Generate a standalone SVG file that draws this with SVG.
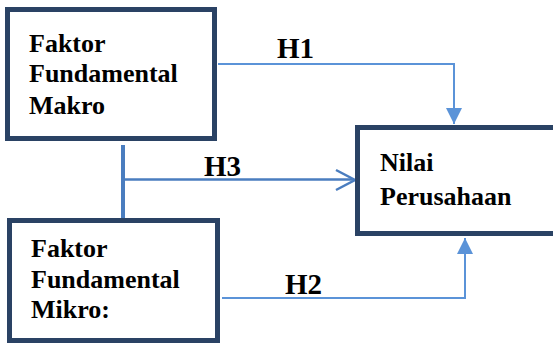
<svg xmlns="http://www.w3.org/2000/svg" width="553" height="343" viewBox="0 0 553 343">
<style>
.box{fill:#fff;stroke:#2a4264;stroke-width:5}
.ln{fill:none;stroke:#5b93d8;stroke-width:2}
.ln3{fill:none;stroke:#4a7dbf;stroke-width:2.5}
.t{font-family:'Liberation Serif','Times New Roman',serif;font-weight:bold;font-size:26px;fill:#000}
.h{font-family:'Liberation Serif','Times New Roman',serif;font-weight:bold;font-size:29px;fill:#000}
</style>
<defs>
<marker id="tri" markerUnits="userSpaceOnUse" markerWidth="16" markerHeight="16" viewBox="0 0 16 16" refX="16" refY="8" orient="auto">
<path d="M0,0 L16,8 L0,16 Z" fill="#5b93d8"/>
</marker>
</defs>
<g id="connectors">
<path class="ln" d="M218,64 H454 V124" marker-end="url(#tri)"/>
<path class="ln" d="M222,298 H465 V238" marker-end="url(#tri)"/>
<line x1="123" y1="145" x2="123" y2="222" stroke="#4a7dbf" stroke-width="4"/>
<line class="ln3" x1="125" y1="179.5" x2="354" y2="179.5"/>
<path class="ln3" d="M336,170 L355,180 L336,190"/>
<text class="h" x="277" y="58">H1</text>
<text class="h" x="204" y="176">H3</text>
<text class="h" x="285" y="294">H2</text>
</g>
<g id="makro">
<rect class="box" x="7.5" y="9.5" width="207" height="129"/>
<text class="t" x="29" y="52">Faktor</text>
<text class="t" x="29" y="82">Fundamental</text>
<text class="t" x="29" y="114">Makro</text>
</g>
<g id="nilai">
<rect class="box" x="357.5" y="127.5" width="210" height="106"/>
<text class="t" x="380" y="171">Nilai</text>
<text class="t" x="380" y="205">Perusahaan</text>
</g>
<g id="mikro">
<rect class="box" x="9.5" y="220.5" width="208" height="120"/>
<text class="t" x="31" y="257">Faktor</text>
<text class="t" x="31" y="288">Fundamental</text>
<text class="t" x="31" y="318">Mikro:</text>
</g>
</svg>
